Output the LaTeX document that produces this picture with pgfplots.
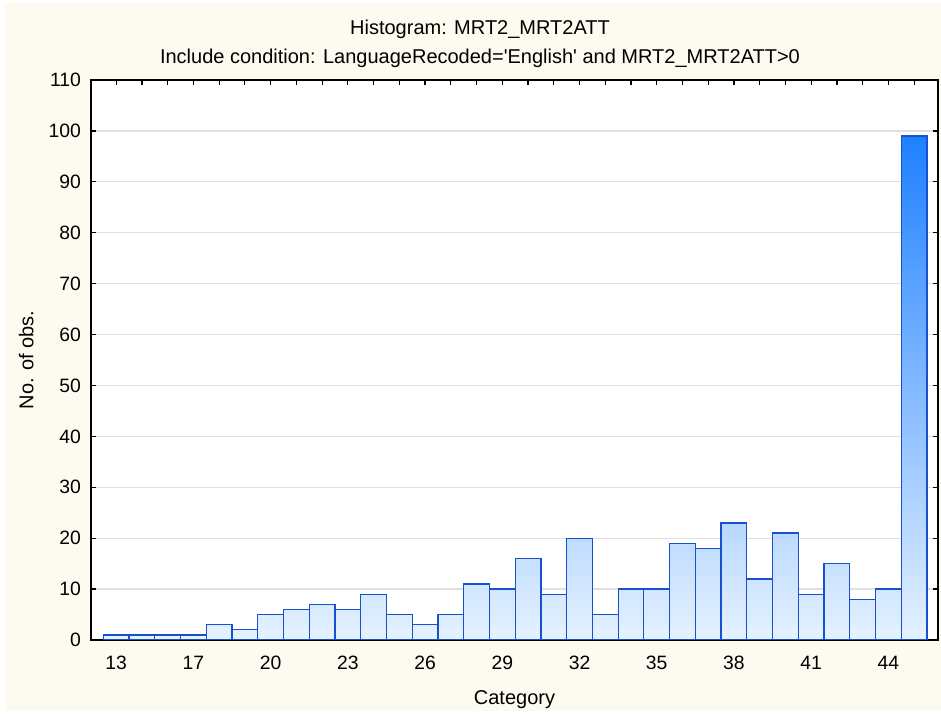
\documentclass[border=0pt]{standalone}
\usepackage{pgfplots}
\pgfplotsset{compat=1.18}
\usepackage{fontspec}
\setmainfont{Liberation Sans}

\definecolor{pagecream}{RGB}{253,250,240}
\definecolor{gridgray}{RGB}{224,224,224}
\definecolor{barlo}{RGB}{230,242,255}
\definecolor{barhi}{RGB}{30,128,255}
\definecolor{baredge}{RGB}{25,80,205}
\pagecolor{pagecream}

% own layer order: grid under the bars, ticks over them
\pgfplotsset{
  layers/histlayers/.define layer set={axis background,axis grid,pre main,main,axis ticks,axis lines,axis tick labels,axis descriptions,axis foreground}{},
  mybar/.style={ybar, bar width=1, bar shift=0pt, draw=baredge, line width=0.9pt, bottom color=barlo},
}

\begin{document}
\begin{tikzpicture}
\path (0,0) rectangle (705.75pt,534.75pt);
\begin{axis}[
  set layers=histlayers,
  scale only axis, width=635.25pt, height=420pt,
  at={(68.25pt,54.75pt)}, anchor=south west,
  axis background/.style={fill=white},
  xmin=-0.978, xmax=31.927,
  ymin=0, ymax=110,
  xtick={0,3,...,30},
  xticklabels={13,17,20,23,26,29,32,35,38,41,44},
  minor xtick={0,1,...,31},
  ytick={0,10,...,110},
  tick align=inside,
  major tick length=3.5pt, minor tick length=3.5pt,
  every tick/.style={black, line width=0.9pt},
  every minor tick/.style={black, line width=0.9pt},
  axis line style={black, line width=1.2pt},
  ymajorgrids,
  grid style={gridgray, line width=1pt},
  /pgf/number format/assume math mode=true,
  tick label style={font=\fontsize{14.5}{16}\selectfont},
  xticklabel style={anchor=base, yshift=-22.1pt},
  yticklabel style={xshift=-4.1pt},
  label style={font=\fontsize{15}{18}\selectfont},
  xlabel={Category},
  xlabel style={at={(rel axis cs:0.5,-0.1143)}, anchor=base},
  ylabel={No. of obs.},
  ylabel style={at={(rel axis cs:-0.0681,0.5)}, anchor=base},
]
\foreach \i/\v in {0/1,1/1,2/1,3/1,4/3,5/2,6/5,7/6,8/7,9/6,10/9,11/5,12/3,13/5,
  14/11,15/10,16/16,17/9,18/20,19/5,20/10,21/10,22/19,23/18,24/23,25/12,26/21,
  27/9,28/15,29/8,30/10,31/99} {
  \pgfmathtruncatemacro\pct{round(\v*100/99)}
  \edef\temp{\noexpand\addplot[mybar, top color=barhi!\pct!barlo] coordinates {(\i,\v)};}
  \temp
}
\end{axis}
% thin white margin round the cream panel
\fill[white] (0,0) rectangle (3.75pt,534.75pt);
\fill[white] (0,532.5pt) rectangle (705.75pt,534.75pt);
\fill[white] (0,0) rectangle (705.75pt,1.5pt);
\node[anchor=base, font=\fontsize{15}{18}\selectfont] at (360pt,508.5pt) {Histogram: MRT2\_MRT2ATT};
\node[anchor=base, font=\fontsize{15}{18}\selectfont] at (360pt,487.3pt)
  {Include condition: LanguageRecoded=\textquotesingle English\textquotesingle{} and MRT2\_MRT2ATT>0};
\end{tikzpicture}
\end{document}
